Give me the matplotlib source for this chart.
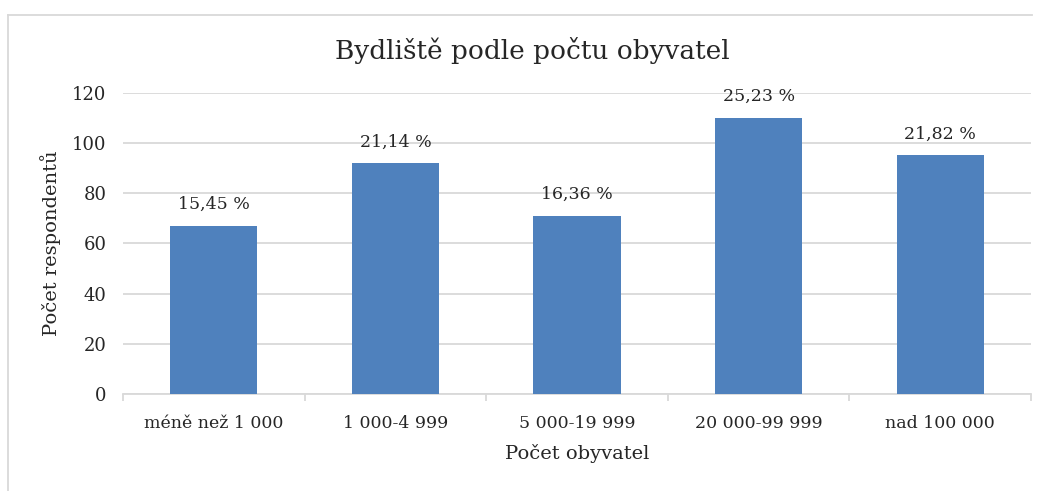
import matplotlib.pyplot as plt
from matplotlib.lines import Line2D

# data
categories = ['méně než 1 000', '1 000-4 999', '5 000-19 999', '20 000-99 999', 'nad 100 000']
counts = [67, 92, 71, 110, 95]
labels = ['15,45 %', '21,14 %', '16,36 %', '25,23 %', '21,82 %']

plt.rcParams['font.family'] = ['DejaVu Serif']

fig = plt.figure(figsize=(10.43, 4.91), dpi=100)
ax = fig.add_axes([123 / 1043, 1 - 394 / 491, 908 / 1043, 301.3 / 491])

x = range(len(categories))
bars = ax.bar(x, counts, width=0.48, color='#4F81BD', zorder=3)
for b, lab in zip(bars, labels):
    ax.annotate(lab, (b.get_x() + b.get_width() / 2, b.get_height()),
                xytext=(0, 9), textcoords='offset points',
                ha='center', va='bottom', fontsize=12.5, color='#262626')

ax.set_xlim(-0.5, len(categories) - 0.5)
ax.set_ylim(0, 120)
ax.set_yticks(range(0, 121, 20))
ax.yaxis.grid(True, color='#D9D9D9', linewidth=1.3, zorder=0)
ax.tick_params(axis='y', length=0, labelsize=13, labelcolor='#262626', pad=12)

ax.set_xticks(x)
ax.set_xticklabels(categories)
ax.tick_params(axis='x', length=0, labelsize=12.5, labelcolor='#262626', pad=15)
# boundary tick marks between categories
ax.set_xticks([i - 0.5 for i in range(len(categories) + 1)], minor=True)
ax.tick_params(axis='x', which='minor', length=5, color='#D9D9D9', width=1.3)

for s in ['top', 'right', 'left']:
    ax.spines[s].set_visible(False)
ax.spines['bottom'].set_color('#D9D9D9')
ax.spines['bottom'].set_linewidth(1.3)

ax.set_ylabel('Počet respondentů', fontsize=14, color='#262626', labelpad=8)
ax.set_xlabel('Počet obyvatel', fontsize=14, color='#262626', labelpad=9)

fig.text(532 / 1043, 1 - 50 / 491, 'Bydliště podle počtu obyvatel',
         ha='center', va='center', fontsize=19, color='#262626')

# outer frame (top and left only visible)
fig.add_artist(Line2D([8 / 1043, 1032 / 1043], [1 - 15 / 491, 1 - 15 / 491],
                      color='#D9D9D9', linewidth=1.3, transform=fig.transFigure))
fig.add_artist(Line2D([8 / 1043, 8 / 1043], [1 - 15 / 491, 0],
                      color='#D9D9D9', linewidth=1.3, transform=fig.transFigure))

fig.savefig('out.png', dpi=100)
